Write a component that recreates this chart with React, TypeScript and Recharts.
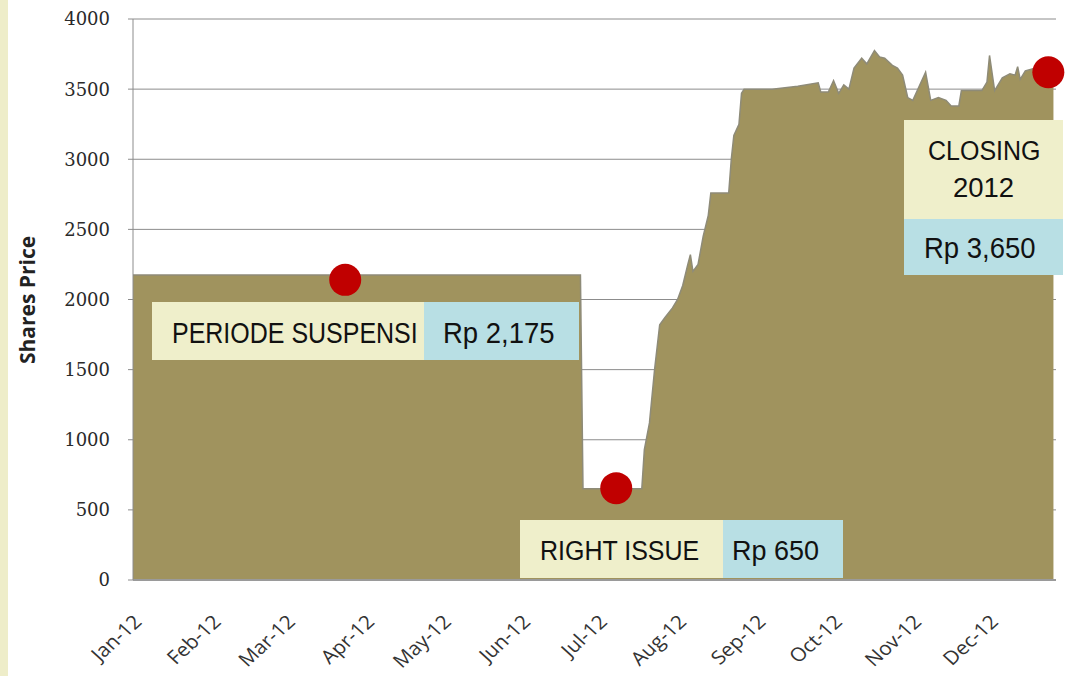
import React from 'react';
import { AreaChart, Area, XAxis, YAxis, CartesianGrid, ReferenceDot } from 'recharts';

// Trading dates (2012, MM-DD) and closing share price
const priceDates = [
  '01-01', '06-24', '06-25', '07-18', '07-19', '07-21', '07-23', '07-25', '07-27', '07-30',
  '08-01', '08-03', '08-05', '08-06', '08-07', '08-09', '08-11', '08-13', '08-14', '08-21',
  '08-22', '08-23', '08-25', '08-26', '08-27', '09-07', '09-17', '09-25', '09-26', '09-29',
  '10-01', '10-03', '10-05', '10-07', '10-09', '10-12', '10-14', '10-17', '10-19', '10-21',
  '10-24', '10-26', '10-28', '10-30', '11-01', '11-06', '11-08', '11-11', '11-14', '11-16',
  '11-19', '11-20', '11-28', '11-30', '12-01', '12-03', '12-06', '12-09', '12-11', '12-12',
  '12-13', '12-15', '12-19', '12-22', '12-26',
];
const priceValues = [
  2175, 2175, 650, 650, 930, 1120, 1500, 1820, 1870, 1940,
  2000, 2100, 2250, 2320, 2200, 2250, 2450, 2600, 2760, 2760,
  3000, 3170, 3250, 3470, 3500, 3500, 3520, 3545, 3480, 3480,
  3560, 3470, 3530, 3500, 3650, 3720, 3680, 3775, 3730, 3720,
  3670, 3650, 3600, 3440, 3420, 3620, 3420, 3440, 3420, 3380,
  3380, 3490, 3490, 3550, 3740, 3490, 3580, 3610, 3600, 3660,
  3570, 3630, 3650, 3620, 3650,
];

// Highlighted events
const markerDates = ['03-24', '07-08', '12-24'];
const markerValues = [2140, 655, 3620];

// Axis ticks
const monthTickDates = ['01-01', '02-01', '03-01', '04-01', '05-01', '06-01', '07-01', '08-01', '09-01', '10-01', '11-01', '12-01'];
const monthLabels = ['Jan-12', 'Feb-12', 'Mar-12', 'Apr-12', 'May-12', 'Jun-12', 'Jul-12', 'Aug-12', 'Sep-12', 'Oct-12', 'Nov-12', 'Dec-12'];
const priceTicks = [0, 500, 1000, 1500, 2000, 2500, 3000, 3500, 4000];

const dayOfYear = (md: string) => {
  const [m, d] = md.split('-').map(Number);
  return Math.round((Date.UTC(2012, m - 1, d) - Date.UTC(2012, 0, 1)) / 86400000);
};

const data = priceDates.map((d, i) => ({ day: dayOfYear(d), price: priceValues[i] }));
const monthTicks = monthTickDates.map(dayOfYear);

const XTick = (props: any) => {
  const { x, y, payload } = props;
  const idx = monthTicks.indexOf(payload.value);
  return (
    <g transform={`translate(${x + 10},${y + 43}) scale(1.1,1) rotate(-45)`}>
      <text textAnchor="end" fontFamily="'Open Sans', sans-serif" fontSize={19} fill="#333">
        {monthLabels[idx]}
      </text>
    </g>
  );
};

const labelFont = "'Liberation Sans', Arial, sans-serif";
const yellow = '#EFEFCB';
const blue = '#B8DFE4';

const BoxText = ({ x, y, size, sy, children }: { x: number; y: number; size: number; sy: number; children: React.ReactNode }) => (
  <g transform={`translate(${x},${y}) scale(1,${sy})`}>
    <text x={0} y={0} fontFamily={labelFont} fontSize={size} fill="#111">{children}</text>
  </g>
);

export default function App() {
  return (
    <div style={{ position: 'absolute', left: 0, top: 0, width: 1070, height: 676, background: '#ffffff', overflow: 'hidden' }}>
      <div style={{ position: 'absolute', left: 0, top: 0, width: 8, height: 676, background: '#EEEDC9' }} />
      <AreaChart
        width={1070}
        height={676}
        data={data}
        margin={{ top: 19, right: 14, bottom: 0, left: 0 }}
      >
        <CartesianGrid vertical={false} stroke="#8c8c8c" strokeWidth={1} />
        <XAxis
          dataKey="day"
          type="number"
          domain={[0, 361]}
          ticks={monthTicks}
          interval={0}
          height={96}
          tickSize={0}
          tickMargin={0}
          tickLine={false}
          axisLine={{ stroke: '#9a9a9a', strokeWidth: 2 }}
          tick={<XTick />}
          allowDataOverflow
        />
        <YAxis
          type="number"
          domain={[0, 4000]}
          ticks={priceTicks}
          width={133}
          tickSize={5}
          tickMargin={18}
          tickLine={{ stroke: '#8c8c8c' }}
          axisLine={{ stroke: '#8c8c8c' }}
          tick={{ fontFamily: "'DejaVu Serif', serif", fontSize: 18, fill: '#2a2a2a' }}
        />
        <Area
          type="linear"
          dataKey="price"
          stroke="#8e8b78"
          strokeWidth={1.5}
          fill="#A0935E"
          fillOpacity={1}
          isAnimationActive={false}
        />
        {markerDates.map((d, i) => (
          <ReferenceDot
            key={d}
            x={dayOfYear(d)}
            y={markerValues[i]}
            r={16}
            fill="#C00000"
            stroke="none"
            ifOverflow="visible"
          />
        ))}
      </AreaChart>
      <svg width={1070} height={676} style={{ position: 'absolute', left: 0, top: 0, pointerEvents: 'none' }}>
        <text
          transform="translate(35,300) rotate(-90)"
          textAnchor="middle"
          fontFamily="'Open Sans', sans-serif"
          fontWeight="bold"
          fontSize={21}
          fill="#222"
        >
          Shares Price
        </text>

        <rect x={152} y={302} width={272} height={58} fill={yellow} />
        <rect x={424} y={302} width={155} height={58} fill={blue} />
        <BoxText x={172} y={343} size={25} sy={1.17}>PERIODE SUSPENSI</BoxText>
        <BoxText x={443} y={343} size={27.5} sy={1.07}>Rp 2,175</BoxText>

        <rect x={520} y={520} width={203} height={58} fill={yellow} />
        <rect x={723} y={520} width={120} height={58} fill={blue} />
        <BoxText x={540} y={560} size={25} sy={1.12}>RIGHT ISSUE</BoxText>
        <BoxText x={732} y={560} size={27} sy={1.04}>Rp 650</BoxText>

        <rect x={904} y={120} width={159} height={99} fill={yellow} />
        <rect x={904} y={219} width={159} height={56} fill={blue} />
        <BoxText x={928} y={160} size={25} sy={1.12}>CLOSING</BoxText>
        <BoxText x={953} y={197} size={27.5} sy={1.02}>2012</BoxText>
        <BoxText x={924} y={258} size={27.5} sy={1.07}>Rp 3,650</BoxText>
      </svg>
    </div>
  );
}
